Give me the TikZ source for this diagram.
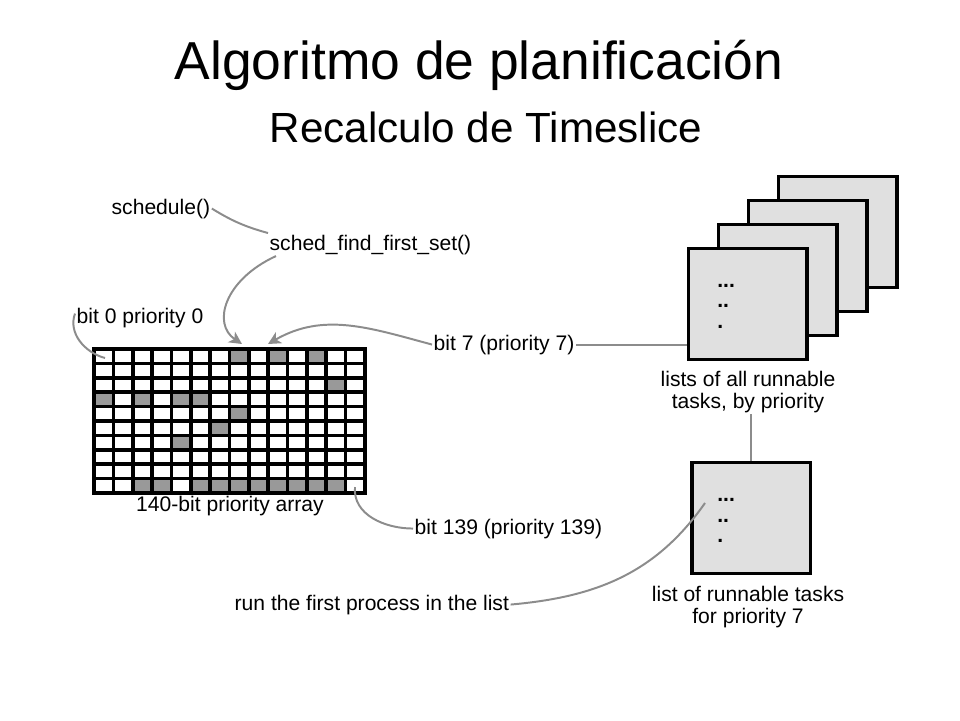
\documentclass[tikz,border=0pt]{standalone}
\usepackage{fontspec}
\setmainfont{Liberation Sans}
\usetikzlibrary{arrows.meta}

\definecolor{gris}{gray}{0.55}
\definecolor{fond}{gray}{0.88}
\definecolor{case}{gray}{0.6}

\begin{document}
\begin{tikzpicture}[
    texte/.style={font=\fontsize{15}{15.6}\selectfont, inner sep=1pt},
    lien/.style={draw=gris, line width=1.4pt},
    fleche/.style={lien, ->, >={Stealth[length=9pt,width=9pt,inset=2.5pt]}},
    liste/.style={draw, line width=2.2pt, fill=fond, minimum width=2.97cm, minimum height=2.78cm, inner sep=0pt},
    pts/.style={font=\fontsize{15}{15.6}\selectfont\bfseries, inner sep=0pt, anchor=base west}
  ]
    \useasboundingbox (0,0) rectangle (24,18);

    % Titres
    \node[font=\fontsize{38}{44}\selectfont, anchor=base] (titre) at (11.975,16) {Algoritmo de planificación};
    \node[font=\fontsize{30}{36}\selectfont, anchor=base] (soustitre) at (12.15,14.425) {Recalculo de Timeslice};

    % Tableau de 140 bits
    \begin{scope}[shift={(2.35,5.675)}, xscale=0.4839, yscale=0.36]
      \fill[case] (7,9) rectangle ++(1,1) (9,9) rectangle ++(1,1) (11,9) rectangle ++(1,1);
      \fill[case] (12,7) rectangle ++(1,1);
      \fill[case] (0,6) rectangle ++(1,1) (2,6) rectangle ++(1,1) (4,6) rectangle ++(2,1);
      \fill[case] (7,5) rectangle ++(1,1);
      \fill[case] (6,4) rectangle ++(1,1);
      \fill[case] (4,3) rectangle ++(1,1);
      \fill[case] (2,0) rectangle ++(2,1) (5,0) rectangle ++(8,1);
      \draw[line width=2.6pt] (0,0) grid (14,10);
      \draw[line width=3pt] (0,0) rectangle (14,10);
    \end{scope}
    \node[texte, anchor=base] (tab) at (5.75,5.225) {140-bit priority array};

    % Cases visées
    \coordinate (c0) at (2.625,9.05);
    \coordinate (c7) at (6.05,9.4);
    \coordinate (c8) at (6.7,9.4);
    \coordinate (c139) at (8.875,5.825);

    % Étiquettes
    \node[texte, anchor=base west] (sch) at (2.75,12.65) {schedule()};
    \node[texte, anchor=base west] (sff) at (6.7,11.75) {sched\_find\_first\_set()};
    \node[texte, anchor=base west] (b0) at (1.875,9.925) {bit 0 priority 0};
    \node[texte, anchor=base west] (b7) at (10.8,9.25) {bit 7 (priority 7)};
    \node[texte, anchor=base west] (b139) at (10.325,4.65) {bit 139 (priority 139)};
    \node[texte, anchor=base west] (run) at (5.825,2.75) {run the first process in the list};

    % Listes par priorité
    \node[liste] (l4) at (20.94,12.2) {};
    \node[liste] (l3) at (20.19,11.6) {};
    \node[liste] (l2) at (19.44,11.0) {};
    \node[liste] (l1) at (18.69,10.4) {};
    \node[pts] (p1a) at (17.925,10.825) {...};
    \node[pts] (p1b) at (17.925,10.325) {..};
    \node[pts] (p1c) at (17.925,9.8) {.};
    \node[texte, align=center] (ltous) at (18.7,8.2) {lists of all runnable\\tasks, by priority};

    % Liste de la priorité 7
    \node[liste] (l5) at (18.785,5.05) {};
    \node[pts] (p5a) at (17.925,5.475) {...};
    \node[pts] (p5b) at (17.925,4.95) {..};
    \node[pts] (p5c) at (17.925,4.45) {.};
    \node[texte, align=center] (lsept) at (18.7,2.825) {list of runnable tasks\\for priority 7};
    \coordinate (tete) at (17.625,5.425);

    % Liens
    \draw[lien] (sch.east) to[bend right=8] (sff.north west);
    \draw[fleche] ([xshift=0.2cm]sff.south west) .. controls (5.6,11.0) and (5.3,9.9) .. (c7);
    \draw[lien] ([yshift=0.1cm]b0.west) to[out=250,in=165] (c0);
    \draw[fleche] (b7.west) to[out=165,in=30] (c8);
    \draw[lien] (b7.east) -- (b7.east -| l1.west);
    \draw[lien] (b139.west) to[out=180,in=-95] (c139);
    \draw[lien] (run.east) to[out=5,in=235] (tete);
    \draw[lien] (l5.north |- ltous.south) -- (l5.north);
\end{tikzpicture}
\end{document}
